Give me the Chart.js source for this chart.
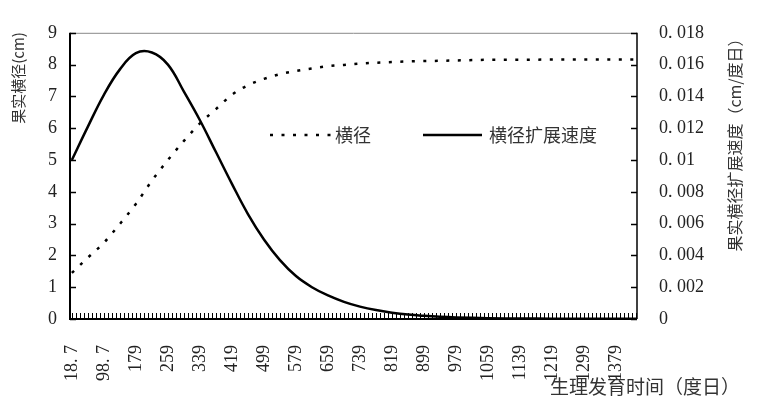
<!DOCTYPE html>
<html>
<head>
<meta charset="utf-8">
<script src="https://cdn.jsdelivr.net/npm/chart.js@4/dist/chart.umd.min.js"></script>
<style>
  body { margin: 0; background: #fff; }
  #wrap { width: 758px; height: 408px; }
</style>
</head>
<body>
<div id="wrap"><canvas id="chart" width="758" height="408"></canvas></div>
<script>
// degree-days (x) and the two series
const degreeDays = [18.7, 58.7, 98.7, 138.7, 178.7, 218.7, 258.7, 298.7, 338.7, 378.7, 418.7, 458.7, 498.7, 538.7, 578.7, 618.7, 658.7, 698.7, 738.7, 778.7, 818.7, 858.7, 898.7, 938.7, 978.7, 1058.7, 1138.7, 1218.7, 1298.7, 1378.7, 1428.7];
const diameter = [1.45, 1.93, 2.4, 2.99, 3.62, 4.35, 5.0, 5.6, 6.15, 6.6, 7.05, 7.35, 7.55, 7.7, 7.8, 7.88, 7.95, 7.99, 8.03, 8.06, 8.08, 8.10, 8.11, 8.12, 8.13, 8.15, 8.15, 8.16, 8.16, 8.16, 8.16];
const speed = [0.0100, 0.0121, 0.0141, 0.0157, 0.01672, 0.01676, 0.0160, 0.0143, 0.0125, 0.0105, 0.0085, 0.0066, 0.0050, 0.0037, 0.0027, 0.0020, 0.00148, 0.00108, 0.00078, 0.00056, 0.0004, 0.00028, 0.0002, 0.00014, 0.0001, 0.00005, 0.00003, 0.00002, 0.00001, 0.00001, 0.00001];

const xTickValues = [18.7, 98.7, 179, 259, 339, 419, 499, 579, 659, 739, 819, 899, 979, 1059, 1139, 1219, 1299, 1379];
const xTickLabels = ['18. 7', '98. 7', '179', '259', '339', '419', '499', '579', '659', '739', '819', '899', '979', '1059', '1139', '1219', '1299', '1379'];
const leftTicks = [0, 1, 2, 3, 4, 5, 6, 7, 8, 9];
const rightTicks = [0, 0.002, 0.004, 0.006, 0.008, 0.01, 0.012, 0.014, 0.016, 0.018];
const rightTickLabels = ['0', '0. 002', '0. 004', '0. 006', '0. 008', '0. 01', '0. 012', '0. 014', '0. 016', '0. 018'];

const seriesNames = ['横径', '横径扩展速度'];
const leftTitle = '果实横径(cm)';
const rightTitle = '果实横径扩展速度（cm/度日）';
const xTitle = '生理发育时间（度日）';

const NUM_FONT = '"Liberation Serif", "DejaVu Serif", serif';
const CJK_FONT = '"Noto Sans CJK SC", "Noto Sans", sans-serif';

const pts = (ys) => degreeDays.map((d, i) => ({ x: d, y: ys[i] }));

const decorations = {
    id: 'decorations',
    afterDatasetsDraw(chart) {
        const { ctx, chartArea: a, scales } = chart;
        const x = scales.x, y = scales.y, y1 = scales.y1;
        ctx.save();

        // frame: grey top, black axes
        ctx.strokeStyle = '#888';
        ctx.lineWidth = 1;
        ctx.beginPath(); ctx.moveTo(a.left, a.top + 0.5); ctx.lineTo(a.right, a.top + 0.5); ctx.stroke();

        ctx.strokeStyle = '#000';
        ctx.lineWidth = 2;
        ctx.beginPath();
        ctx.moveTo(a.left, a.top); ctx.lineTo(a.left, a.bottom);
        ctx.lineTo(a.right, a.bottom);
        ctx.stroke();
        ctx.lineWidth = 1.5;
        ctx.beginPath(); ctx.moveTo(a.right, a.top); ctx.lineTo(a.right, a.bottom); ctx.stroke();

        // inward ticks
        ctx.lineWidth = 1.5;
        leftTicks.forEach(v => {
            const py = Math.round(y.getPixelForValue(v)) + 0.5;
            ctx.beginPath(); ctx.moveTo(a.left, py); ctx.lineTo(a.left + 6, py); ctx.stroke();
        });
        rightTicks.forEach(v => {
            const py = Math.round(y1.getPixelForValue(v)) + 0.5;
            ctx.beginPath(); ctx.moveTo(a.right, py); ctx.lineTo(a.right - 6, py); ctx.stroke();
        });
        ctx.lineWidth = 1;
        for (let d = 18.7; d <= x.max; d += 10) {
            const px = Math.round(x.getPixelForValue(d)) + 0.5;
            ctx.beginPath(); ctx.moveTo(px, a.bottom); ctx.lineTo(px, a.bottom - 6); ctx.stroke();
        }

        // legend inside the plot
        const ly = 135;
        ctx.lineWidth = 2.5;
        ctx.setLineDash([3, 8.5]);
        ctx.beginPath(); ctx.moveTo(270, ly); ctx.lineTo(333, ly); ctx.stroke();
        ctx.setLineDash([]);
        ctx.beginPath(); ctx.moveTo(423, ly); ctx.lineTo(482, ly); ctx.stroke();
        ctx.fillStyle = '#333';
        ctx.font = '18px ' + CJK_FONT;
        ctx.textBaseline = 'middle';
        ctx.textAlign = 'left';
        ctx.fillText(seriesNames[0], 335, ly);
        ctx.fillText(seriesNames[1], 489, ly);

        // axis titles
        ctx.font = '15px ' + CJK_FONT;
        ctx.save();
        ctx.translate(18, 78);
        ctx.rotate(-Math.PI / 2);
        ctx.textAlign = 'center';
        ctx.fillText(leftTitle, 0, 0);
        ctx.restore();

        ctx.font = '16px ' + CJK_FONT;
        ctx.save();
        ctx.translate(735, 141);
        ctx.rotate(-Math.PI / 2);
        ctx.textAlign = 'center';
        ctx.fillText(rightTitle, 0, 0);
        ctx.restore();

        ctx.font = '19px ' + CJK_FONT;
        ctx.textAlign = 'right';
        ctx.fillText(xTitle, 740, 387);

        ctx.restore();
    }
};

new Chart(document.getElementById('chart'), {
    type: 'line',
    data: {
        datasets: [
            {
                label: seriesNames[0],
                data: pts(diameter),
                yAxisID: 'y',
                borderColor: '#000',
                borderWidth: 2.5,
                borderDash: [3, 8.5],
                borderCapStyle: 'butt',
                pointRadius: 0,
                cubicInterpolationMode: 'monotone',
                fill: false
            },
            {
                label: seriesNames[1],
                data: pts(speed),
                yAxisID: 'y1',
                borderColor: '#000',
                borderWidth: 2.5,
                pointRadius: 0,
                tension: 0.4,
                fill: false
            }
        ]
    },
    options: {
        responsive: false,
        animation: false,
        layout: { padding: { top: 28, left: 0, right: 0, bottom: 0 } },
        plugins: { legend: { display: false }, tooltip: { enabled: false } },
        scales: {
            x: {
                type: 'linear',
                min: 14,
                max: 1431,
                grid: { display: false, drawTicks: false },
                border: { display: false },
                afterBuildTicks: s => { s.ticks = xTickValues.map(v => ({ value: v })); },
                afterFit: s => { s.height = 89; },
                ticks: {
                    autoSkip: false,
                    minRotation: 90,
                    maxRotation: 90,
                    padding: 26,
                    color: '#222',
                    font: { family: NUM_FONT, size: 18 },
                    callback: (v, i) => xTickLabels[i]
                }
            },
            y: {
                position: 'left',
                min: 0,
                max: 9,
                grid: { display: false, drawTicks: false },
                border: { display: false },
                afterBuildTicks: s => { s.ticks = leftTicks.map(v => ({ value: v })); },
                afterFit: s => { s.width = 70; },
                ticks: {
                    padding: 13,
                    color: '#222',
                    font: { family: NUM_FONT, size: 18 },
                    callback: v => String(v)
                }
            },
            y1: {
                position: 'right',
                min: 0,
                max: 0.018,
                grid: { display: false, drawTicks: false },
                border: { display: false },
                afterBuildTicks: s => { s.ticks = rightTicks.map(v => ({ value: v })); },
                afterFit: s => { s.width = 121; },
                ticks: {
                    padding: 22,
                    color: '#222',
                    font: { family: NUM_FONT, size: 18 },
                    callback: (v, i) => rightTickLabels[i]
                }
            }
        }
    },
    plugins: [decorations]
});
</script>
</body>
</html>
